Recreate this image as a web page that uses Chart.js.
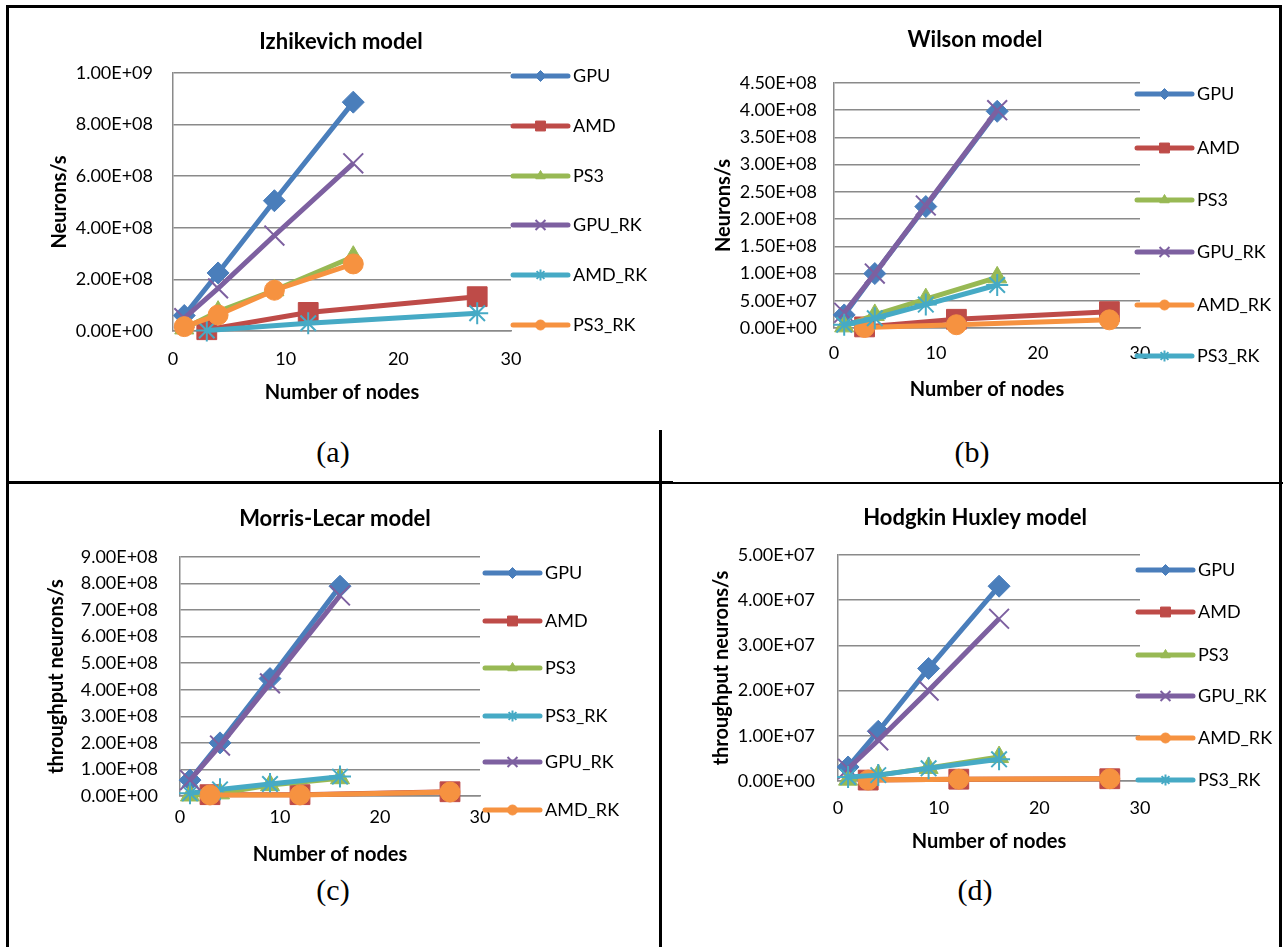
<!DOCTYPE html>
<html>
<head>
<meta charset="utf-8">
<script src="https://cdn.jsdelivr.net/npm/chart.js@4/dist/chart.umd.min.js"></script>
<style>
html, body { margin: 0; padding: 0; background: #fff; }
body { width: 1283px; height: 947px; position: relative; overflow: hidden; }
canvas { position: absolute; left: 0; top: 0; }
.ln { position: absolute; background: #000; }
.cap { position: absolute; font-family: "Liberation Serif", serif; font-size: 30px; transform: translate(-50%, -50%); line-height: 1; }
</style>
</head>
<body>
<!-- рамка таблицы -->
<div class="ln" style="left:6px;top:5px;width:1276px;height:3px"></div>
<div class="ln" style="left:6px;top:5px;width:3px;height:942px"></div>
<div class="ln" style="left:1279px;top:5px;width:3px;height:942px"></div>
<div class="ln" style="left:6px;top:481px;width:667px;height:3px"></div>
<div class="ln" style="left:673px;top:482px;width:610px;height:2px"></div>
<div class="ln" style="left:659px;top:430px;width:3px;height:517px"></div>

<div class="cap" style="left:333px;top:452px">(a)</div>
<div class="cap" style="left:972px;top:452px">(b)</div>
<div class="cap" style="left:333px;top:890px">(c)</div>
<div class="cap" style="left:975px;top:890px">(d)</div>

<canvas id="chartA" width="1283" height="947"></canvas>
<canvas id="chartB" width="1283" height="947"></canvas>
<canvas id="chartC" width="1283" height="947"></canvas>
<canvas id="chartD" width="1283" height="947"></canvas>

<script>
// Число узлов
const nodesGpu = [1, 4, 9, 16];   // GPU и PS3
const nodesAmd = [3, 12, 27];     // AMD

// (a) Izhikevich model
const izhGPU   = [6.0e7, 2.25e8, 5.05e8, 8.87e8];
const izhAMD   = [5e6, 7.2e7, 1.33e8];
const izhPS3   = [1.0e7, 7.5e7, 1.58e8, 2.88e8];
const izhGPURK = [5.0e7, 1.65e8, 3.70e8, 6.50e8];
const izhAMDRK = [2e6, 3.0e7, 6.9e7];
const izhPS3RK = [1.7e7, 6.2e7, 1.58e8, 2.60e8];

// (b) Wilson model
const wilGPU   = [2.4e7, 1.0e8, 2.23e8, 3.98e8];
const wilAMD   = [2e6, 1.6e7, 3.0e7];
const wilPS3   = [3e6, 2.4e7, 5.3e7, 9.3e7];
const wilGPURK = [2.8e7, 1.0e8, 2.25e8, 4.0e8];
const wilAMDRK = [1e6, 6e6, 1.5e7];
const wilPS3RK = [6e6, 1.8e7, 4.3e7, 7.9e7];

// (c) Morris-Lecar model
const mlGPU   = [6.0e7, 2.0e8, 4.42e8, 7.90e8];
const mlAMD   = [5e6, 5e6, 1.6e7];
const mlPS3   = [2e6, 1.0e7, 4.1e7, 6.7e7];
const mlPS3RK = [1.0e7, 2.5e7, 4.5e7, 7.3e7];
const mlGPURK = [6.0e7, 1.9e8, 4.24e8, 7.55e8];
const mlAMDRK = [4e6, 4e6, 1.5e7];

// (d) Hodgkin Huxley model
const hhGPU   = [3.1e6, 1.1e7, 2.49e7, 4.31e7];
const hhAMD   = [2e5, 4e5, 5e5];
const hhPS3   = [3e5, 1.3e6, 2.9e6, 5.3e6];
const hhGPURK = [2.7e6, 9.0e6, 2.0e7, 3.59e7];
const hhAMDRK = [2e5, 4e5, 5e5];
const hhPS3RK = [9e5, 1.3e6, 2.8e6, 4.8e6];

// Цвета и маркеры серий
const BLUE = '#4a7ebb', RED = '#be4b48', GREEN = '#98b954', PURPLE = '#7d60a0', CYAN = '#46aac5', ORANGE = '#f69240';
const MARK = {
    diamond: { style: 'rectRot', r: 11, fill: true },
    square: { style: 'rect', r: 14, fill: true },
    triangle: { style: 'triangle', r: 11, fill: true },
    x: { style: 'crossRot', r: 14, fill: false },
    star: { style: 'star', r: 11, fill: false },
    circle: { style: 'circle', r: 10, fill: true }
};

const W = 1283, H = 947;

function sci(v) {
    const parts = v.toExponential(2).split('e');
    const e = parseInt(parts[1], 10);
    return parts[0] + 'E' + (e < 0 ? '-' : '+') + String(Math.abs(e)).padStart(2, '0');
}

function series(label, xs, ys, color, mark) {
    const m = MARK[mark];
    return {
        label: label,
        data: xs.map((x, i) => ({ x: x, y: ys[i] })),
        borderColor: color,
        backgroundColor: color,
        borderWidth: 5,
        pointStyle: m.style,
        pointRadius: m.r,
        pointBackgroundColor: m.fill ? color : 'rgba(0,0,0,0)',
        pointBorderColor: color,
        pointBorderWidth: m.fill ? 1 : 2,
        clip: false
    };
}

// Легенда справа и заголовок диаграммы
const sideLegend = {
    id: 'sideLegend',
    afterDraw(chart, args, opts) {
        const ctx = chart.ctx;
        ctx.save();
        ctx.fillStyle = '#000';
        ctx.font = 'bold 22px Lato';
        ctx.textAlign = 'center';
        ctx.textBaseline = 'middle';
        ctx.fillText(opts.title, opts.titleX, opts.titleY);
        chart.data.datasets.forEach((ds, i) => {
            const y = opts.rows[i];
            ctx.strokeStyle = ds.borderColor;
            ctx.lineWidth = 5;
            ctx.lineCap = 'round';
            ctx.beginPath();
            ctx.moveTo(opts.x, y);
            ctx.lineTo(opts.x + 55, y);
            ctx.stroke();
            ctx.fillStyle = ds.pointBackgroundColor;
            ctx.strokeStyle = ds.pointBorderColor;
            ctx.lineWidth = ds.pointBorderWidth;
            ctx.lineCap = 'butt';
            Chart.helpers.drawPoint(ctx, { pointStyle: ds.pointStyle, radius: ds.pointRadius * 0.5, borderWidth: ds.pointBorderWidth, rotation: 0 }, opts.x + 27.5, y);
            ctx.fillStyle = '#000';
            ctx.font = '18px Lato';
            ctx.textAlign = 'left';
            ctx.fillText(ds.label, opts.x + 60, y);
        });
        ctx.restore();
    }
};

function makeChart(id, p) {
    const lh = 20 * 1.2;
    const padLeft = p.yTitleX - lh / 2;
    const padBottom = H - (p.xTitleY + lh / 2);
    const tickLh = 18 * 1.2;
    new Chart(document.getElementById(id), {
        type: 'line',
        data: { datasets: p.datasets.map((d, i) => Object.assign(d, { order: p.datasets.length - i })) },
        options: {
            responsive: false,
            animation: false,
            layout: { padding: { left: padLeft, top: p.area.t, right: W - p.area.r, bottom: padBottom } },
            plugins: {
                legend: { display: false },
                tooltip: { enabled: false },
                sideLegend: { title: p.title, titleX: p.titleX, titleY: p.titleY, x: p.legX, rows: p.legRows }
            },
            scales: {
                x: {
                    type: 'linear',
                    min: 0, max: 30,
                    ticks: { stepSize: 10, color: '#000', font: { size: 18 }, padding: p.xLabelY - p.area.b - tickLh / 2 },
                    grid: { display: false, drawTicks: false },
                    border: { display: true, color: '#8a8a8a', width: 1.5 },
                    title: { display: true, text: 'Number of nodes', color: '#000', font: { size: 20, weight: 'bold' }, padding: 0 },
                    afterFit(s) { s.height = p.xTitleY + lh / 2 - p.area.b; }
                },
                y: {
                    min: 0, max: p.yMax,
                    ticks: { stepSize: p.yStep, color: '#000', font: { size: 18 }, padding: p.area.l - p.yLabelR, callback: v => sci(v) },
                    grid: { color: '#8a8a8a', lineWidth: 1.5, drawTicks: false },
                    border: { display: true, color: '#8a8a8a', width: 1.5 },
                    title: { display: true, text: p.yTitle, color: '#000', font: { size: 20, weight: 'bold' }, padding: 0 },
                    afterFit(s) { s.width = p.area.l - padLeft; }
                }
            }
        },
        plugins: [sideLegend]
    });
}

function build() {
    Chart.defaults.font.family = 'Lato';
    Chart.defaults.font.lineHeight = 1.2;

    makeChart('chartA', {
        title: 'Izhikevich model', titleX: 341, titleY: 42,
        area: { l: 173, r: 511, t: 73, b: 331 },
        yMax: 1e9, yStep: 2e8, yTitle: 'Neurons/s', yTitleX: 60, yLabelR: 153,
        xLabelY: 359, xTitleY: 393,
        legX: 513, legRows: [76, 126, 176, 225, 275, 325],
        datasets: [
            series('GPU', nodesGpu, izhGPU, BLUE, 'diamond'),
            series('AMD', nodesAmd, izhAMD, RED, 'square'),
            series('PS3', nodesGpu, izhPS3, GREEN, 'triangle'),
            series('GPU_RK', nodesGpu, izhGPURK, PURPLE, 'x'),
            series('AMD_RK', nodesAmd, izhAMDRK, CYAN, 'star'),
            series('PS3_RK', nodesGpu, izhPS3RK, ORANGE, 'circle')
        ]
    });

    makeChart('chartB', {
        title: 'Wilson model', titleX: 975, titleY: 40,
        area: { l: 834, r: 1140, t: 83, b: 328 },
        yMax: 4.5e8, yStep: 5e7, yTitle: 'Neurons/s', yTitleX: 724, yLabelR: 817,
        xLabelY: 353, xTitleY: 390,
        legX: 1137, legRows: [94, 148, 200, 252, 305, 356],
        datasets: [
            series('GPU', nodesGpu, wilGPU, BLUE, 'diamond'),
            series('AMD', nodesAmd, wilAMD, RED, 'square'),
            series('PS3', nodesGpu, wilPS3, GREEN, 'triangle'),
            series('GPU_RK', nodesGpu, wilGPURK, PURPLE, 'x'),
            series('AMD_RK', nodesAmd, wilAMDRK, ORANGE, 'circle'),
            series('PS3_RK', nodesGpu, wilPS3RK, CYAN, 'star')
        ]
    });

    makeChart('chartC', {
        title: 'Morris-Lecar model', titleX: 335, titleY: 519,
        area: { l: 180, r: 480, t: 557, b: 796 },
        yMax: 9e8, yStep: 1e8, yTitle: 'throughput neurons/s', yTitleX: 57, yLabelR: 158,
        xLabelY: 817, xTitleY: 855,
        legX: 485, legRows: [573, 621, 668, 716, 762, 810],
        datasets: [
            series('GPU', nodesGpu, mlGPU, BLUE, 'diamond'),
            series('AMD', nodesAmd, mlAMD, RED, 'square'),
            series('PS3', nodesGpu, mlPS3, GREEN, 'triangle'),
            series('PS3_RK', nodesGpu, mlPS3RK, CYAN, 'star'),
            series('GPU_RK', nodesGpu, mlGPURK, PURPLE, 'x'),
            series('AMD_RK', nodesAmd, mlAMDRK, ORANGE, 'circle')
        ]
    });

    makeChart('chartD', {
        title: 'Hodgkin Huxley model', titleX: 975, titleY: 518,
        area: { l: 838, r: 1140, t: 555, b: 781 },
        yMax: 5e7, yStep: 1e7, yTitle: 'throughput neurons/s', yTitleX: 722, yLabelR: 815,
        xLabelY: 808, xTitleY: 842,
        legX: 1138, legRows: [570, 612, 655, 696, 738, 780],
        datasets: [
            series('GPU', nodesGpu, hhGPU, BLUE, 'diamond'),
            series('AMD', nodesAmd, hhAMD, RED, 'square'),
            series('PS3', nodesGpu, hhPS3, GREEN, 'triangle'),
            series('GPU_RK', nodesGpu, hhGPURK, PURPLE, 'x'),
            series('AMD_RK', nodesAmd, hhAMDRK, ORANGE, 'circle'),
            series('PS3_RK', nodesGpu, hhPS3RK, CYAN, 'star')
        ]
    });
}

window.onload = function() {
    document.fonts.load('18px Lato').then(build, build);
};
</script>
</body>
</html>
